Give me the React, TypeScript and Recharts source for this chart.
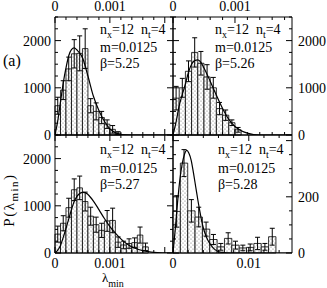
import { ComposedChart, XAxis, YAxis, Line, Scatter, ErrorBar, ReferenceArea } from 'recharts'

const W = 327
const H = 288
const FONT = '"Liberation Serif", "Times New Roman", serif'

// histogram bins start at 0, one value per bin
const binA = 0.0001
const histA = [620, 950, 1400, 1720, 1730, 1830, 620, 500, 370, 230, 120, 40]
const errA = [180, 200, 250, 300, 370, 420, 150, 180, 130, 90, 80, 30]

const binB = 0.0001
const histB = [780, 1000, 1350, 1750, 1520, 1230, 1000, 560, 420, 260, 110]
const errB = [250, 200, 220, 310, 250, 260, 220, 130, 110, 60, 50]

const binC = 0.0001
const histC = [400, 630, 960, 1340, 1380, 1090, 780, 600, 480, 680, 690, 230, 170, 200, 220, 380, 130]
const errC = [170, 160, 200, 230, 250, 200, 190, 160, 150, 220, 260, 110, 80, 100, 100, 170, 80]

const binD = 0.00097
const histD = [148, 320, 150, 128, 85, 48, 22, 52, 28, 18, 20, 34, 22, 58]
const errD = [56, 48, 40, 35, 25, 18, 12, 20, 14, 10, 12, 22, 12, 30]

// fitted curves, x in units of 1e-4 (a-c) and 1e-3 (d)
const curveAx = [0, 0.5, 1, 1.5, 2, 2.5, 3, 3.5, 4, 5, 6, 7, 8, 9, 10, 11, 12, 14, 21.5]
const curveAy = [0, 300, 700, 1100, 1420, 1680, 1810, 1845, 1800, 1640, 1250, 820, 520, 290, 130, 50, 10, 0, 0]

const curveBx = [0, 0.5, 1, 1.5, 2, 2.5, 3, 3.5, 4, 4.5, 5, 6, 7, 8, 9, 10, 11, 12, 13, 14, 19.2]
const curveBy = [0, 280, 620, 860, 1080, 1330, 1500, 1575, 1590, 1540, 1420, 1140, 840, 560, 330, 180, 90, 40, 10, 0, 0]

const curveCx = [0, 0.5, 1, 1.5, 2, 2.5, 3, 3.5, 4, 4.5, 5, 5.5, 6, 7, 8, 9, 10, 11, 12, 13, 14, 15, 16, 17, 18, 20, 21.5]
const curveCy = [0, 60, 160, 330, 520, 720, 920, 1090, 1200, 1260, 1285, 1280, 1240, 1100, 920, 730, 560, 420, 300, 200, 130, 85, 50, 28, 14, 4, 0]

const curveDx = [0, 0.3, 0.6, 0.9, 1.2, 1.5, 1.8, 2.1, 2.4, 2.7, 3, 3.3, 3.6, 3.9, 4.2, 4.6, 5, 5.5, 6, 6.5, 7.5, 15.7]
const curveDy = [0, 85, 180, 260, 315, 350, 365, 355, 330, 285, 235, 185, 140, 100, 72, 45, 28, 13, 5, 2, 0, 0]

// axis ticks
const xTicksAC = [0, 0.0002, 0.0004, 0.0006, 0.0008, 0.001, 0.0012, 0.0014, 0.0016, 0.0018, 0.002]
const xTicksB = [0, 0.0002, 0.0004, 0.0006, 0.0008, 0.001, 0.0012, 0.0014, 0.0016, 0.0018]
const xMajorSmall = [0, 0.001, 0.002]
const xLabelValsSmall = [0, 0.001]
const xLabelTextSmall = ['0', '0.001']

const xTicksD = [0, 0.002, 0.004, 0.006, 0.008, 0.01, 0.012, 0.014]
const xMajorD = [0, 0.01]
const xLabelTextD = ['0', '0.01']

const yTicks = [0, 250, 500, 750, 1000, 1250, 1500, 1750, 2000, 2250, 2500]
const yMajor = [0, 1000, 2000]
const yLabelText = ['0', '1000', '2000']

const yTicksD = [0, 50, 100, 150, 200, 250, 300, 350, 400]
const yMajorD = [0, 200, 400]
const yLabelValsD = [0, 200]
const yLabelTextD = ['0', '200']

type Side = 'top' | 'bottom' | 'left' | 'right'

const near = (a: number, b: number) => Math.abs(a - b) < 1e-9

// inward tick marks, label outside
function makeTick(side: Side, major: number[], labelVals: number[], labelText: string[]) {
  return (props: any) => {
    const { x, y, payload } = props
    const v = payload.value
    const len = major.some((m) => near(m, v)) ? 6 : 3
    const li = labelVals.findIndex((m) => near(m, v))
    const label = li >= 0 ? labelText[li] : null
    const tp = { fontFamily: FONT, fontSize: 14, fill: '#000' }
    if (side === 'top')
      return (
        <g>
          <line x1={x} y1={y} x2={x} y2={y + len} stroke="#000" />
          {label && <text x={x} y={y - 6} textAnchor="middle" {...tp}>{label}</text>}
        </g>
      )
    if (side === 'bottom')
      return (
        <g>
          <line x1={x} y1={y} x2={x} y2={y - len} stroke="#000" />
          {label && <text x={x} y={y + 15} textAnchor="middle" {...tp}>{label}</text>}
        </g>
      )
    if (side === 'left')
      return (
        <g>
          <line x1={x} y1={y} x2={x + len} y2={y} stroke="#000" />
          {label && <text x={x - 4} y={y + 5} textAnchor="end" {...tp}>{label}</text>}
        </g>
      )
    return (
      <g>
        <line x1={x} y1={y} x2={x - len} y2={y} stroke="#000" />
        {label && <text x={x + 6} y={y + 5} textAnchor="start" {...tp}>{label}</text>}
      </g>
    )
  }
}

interface PanelProps {
  box: [number, number, number, number] // left, top, right, bottom of plot area
  xSide: 'top' | 'bottom'
  ySide: 'left' | 'right'
  xDomain: [number, number]
  yDomain: [number, number]
  xTicks: number[]
  xMajor: number[]
  xLabelVals: number[]
  xLabelText: string[]
  yTicks: number[]
  yMajor: number[]
  yLabelVals: number[]
  yLabelText: string[]
  bin: number
  hist: number[]
  err: number[]
  cx: number[]
  cy: number[]
  cScale: number
}

function Panel(p: PanelProps) {
  const [l, t, r, b] = p.box
  const topH = p.xSide === 'top' ? 14 : 1
  const botH = p.xSide === 'bottom' ? 14 : 1
  const leftW = p.ySide === 'left' ? 30 : 1
  const rightW = p.ySide === 'right' ? 30 : 1
  const margin = { top: t - topH, left: l - leftW, right: W - r - rightW, bottom: H - b - botH }
  const curve = p.cx.map((x, i) => ({ x: x * p.cScale, y: p.cy[i] }))
  const points = p.hist.map((v, i) => ({ x: (i + 0.5) * p.bin, y: v, e: p.err[i] }))
  const xs = p.xSide
  const ys = p.ySide
  const none: number[] = []
  const noText: string[] = []

  const xAxis = (side: 'top' | 'bottom', h: number) => (
    <XAxis
      xAxisId={side}
      orientation={side}
      type="number"
      dataKey="x"
      domain={p.xDomain}
      allowDataOverflow
      ticks={p.xTicks}
      interval={0}
      height={h}
      tickSize={0}
      tickMargin={0}
      tickLine={false}
      axisLine={{ stroke: '#000', strokeWidth: 1 }}
      tick={makeTick(side, p.xMajor, side === xs ? p.xLabelVals : none, side === xs ? p.xLabelText : noText)}
    />
  )
  const yAxis = (side: 'left' | 'right', w: number) => (
    <YAxis
      yAxisId={side}
      orientation={side}
      type="number"
      dataKey="y"
      domain={p.yDomain}
      allowDataOverflow
      ticks={p.yTicks}
      interval={0}
      width={w}
      tickSize={0}
      tickMargin={0}
      tickLine={false}
      axisLine={{ stroke: '#000', strokeWidth: 1 }}
      tick={makeTick(side, p.yMajor, side === ys ? p.yLabelVals : none, side === ys ? p.yLabelText : noText)}
    />
  )

  return (
    <div style={{ position: 'absolute', left: 0, top: 0 }}>
      <ComposedChart width={W} height={H} margin={margin}>
        {xAxis('top', topH)}
        {xAxis('bottom', botH)}
        {yAxis('left', leftW)}
        {yAxis('right', rightW)}
        {p.hist.map((v, i) => (
          <ReferenceArea
            key={i}
            xAxisId={xs}
            yAxisId={ys}
            x1={i * p.bin}
            x2={(i + 1) * p.bin}
            y1={0}
            y2={v}
            fill="url(#stipple)"
            fillOpacity={1}
            stroke="#000"
            strokeWidth={0.8}
          />
        ))}
        <Line
          xAxisId={xs}
          yAxisId={ys}
          data={curve}
          dataKey="y"
          type="monotone"
          stroke="#000"
          strokeWidth={1.2}
          dot={false}
          isAnimationActive={false}
        />
        <Scatter
          xAxisId={xs}
          yAxisId={ys}
          data={points}
          dataKey="y"
          shape={() => <g />}
          isAnimationActive={false}
        >
          <ErrorBar dataKey="e" direction="y" width={2.5} stroke="#000" strokeWidth={1} isAnimationActive={false} />
        </Scatter>
      </ComposedChart>
    </div>
  )
}

function Info({ x, y, gap, beta }: { x: number; y: number; gap: [number, number]; beta: string }) {
  const s = { fontFamily: FONT, fontSize: 14, fill: '#000' }
  return (
    <g>
      <text x={x} y={y} {...s}>
        n<tspan dy={4} fontSize={10}>x</tspan>
        <tspan dy={-4}>=12</tspan>
        <tspan dx={7}>n</tspan>
        <tspan dy={4} fontSize={10}>t</tspan>
        <tspan dy={-4}>=4</tspan>
      </text>
      <text x={x} y={y + gap[0]} {...s}>m=0.0125</text>
      <text x={x} y={y + gap[0] + gap[1]} {...s}>β={beta}</text>
    </g>
  )
}

export default function App() {
  return (
    <div style={{ position: 'absolute', left: 0, top: 0, width: W, height: H, background: '#fff' }}>
      <svg width={0} height={0} style={{ position: 'absolute' }}>
        <defs>
          <pattern id="stipple" width={4} height={4} patternUnits="userSpaceOnUse">
            <rect width={4} height={4} fill="#fff" />
            <circle cx={1} cy={1} r={0.6} fill="#777" />
            <circle cx={3} cy={3} r={0.6} fill="#777" />
          </pattern>
        </defs>
      </svg>
      <Panel
        box={[55, 17, 173, 135]}
        xSide="top"
        ySide="left"
        xDomain={[0, 0.00215]}
        yDomain={[0, 2500]}
        xTicks={xTicksAC}
        xMajor={xMajorSmall}
        xLabelVals={xLabelValsSmall}
        xLabelText={xLabelTextSmall}
        yTicks={yTicks}
        yMajor={yMajor}
        yLabelVals={yMajor}
        yLabelText={yLabelText}
        bin={binA}
        hist={histA}
        err={errA}
        cx={curveAx}
        cy={curveAy}
        cScale={1e-4}
      />
      <Panel
        box={[173, 17, 292, 135]}
        xSide="top"
        ySide="right"
        xDomain={[0, 0.00192]}
        yDomain={[0, 2500]}
        xTicks={xTicksB}
        xMajor={xMajorSmall}
        xLabelVals={xLabelValsSmall}
        xLabelText={xLabelTextSmall}
        yTicks={yTicks}
        yMajor={yMajor}
        yLabelVals={yMajor}
        yLabelText={yLabelText}
        bin={binB}
        hist={histB}
        err={errB}
        cx={curveBx}
        cy={curveBy}
        cScale={1e-4}
      />
      <Panel
        box={[55, 135, 173, 253]}
        xSide="bottom"
        ySide="left"
        xDomain={[0, 0.00215]}
        yDomain={[0, 2500]}
        xTicks={xTicksAC}
        xMajor={xMajorSmall}
        xLabelVals={xLabelValsSmall}
        xLabelText={xLabelTextSmall}
        yTicks={yTicks}
        yMajor={yMajor}
        yLabelVals={yMajor}
        yLabelText={yLabelText}
        bin={binC}
        hist={histC}
        err={errC}
        cx={curveCx}
        cy={curveCy}
        cScale={1e-4}
      />
      <Panel
        box={[173, 135, 292, 253]}
        xSide="bottom"
        ySide="right"
        xDomain={[0, 0.0157]}
        yDomain={[0, 420]}
        xTicks={xTicksD}
        xMajor={xMajorD}
        xLabelVals={xMajorD}
        xLabelText={xLabelTextD}
        yTicks={yTicksD}
        yMajor={yMajorD}
        yLabelVals={yLabelValsD}
        yLabelText={yLabelTextD}
        bin={binD}
        hist={histD}
        err={errD}
        cx={curveDx}
        cy={curveDy}
        cScale={1e-3}
      />
      <svg width={W} height={H} style={{ position: 'absolute', left: 0, top: 0, pointerEvents: 'none' }}>
        <Info x={100} y={34} gap={[18, 16]} beta="5.25" />
        <Info x={215} y={34} gap={[18, 16]} beta="5.26" />
        <Info x={100} y={154} gap={[19, 16]} beta="5.27" />
        <Info x={218} y={154} gap={[19, 16]} beta="5.28" />
        <text x={3} y={66} fontFamily={FONT} fontSize={16}>(a)</text>
        <text transform="translate(14,200) rotate(-90)" textAnchor="middle" fontFamily={FONT} fontSize={15} letterSpacing={1.5}>
          P(λ<tspan dy={4} fontSize={11}>min</tspan>
          <tspan dy={-4}>)</tspan>
        </text>
        <text x={102} y={282} fontFamily={FONT} fontSize={13}>
          λ<tspan dy={5} fontSize={10}>min</tspan>
        </text>
      </svg>
    </div>
  )
}
